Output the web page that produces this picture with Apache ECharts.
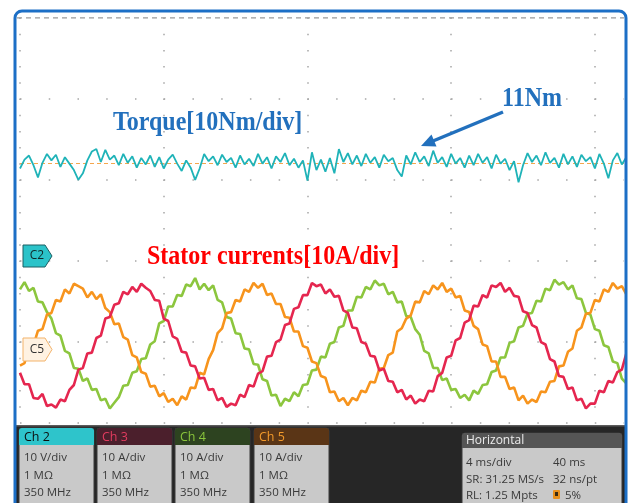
<!DOCTYPE html>
<html>
<head>
<meta charset="utf-8">
<script src="https://cdn.jsdelivr.net/npm/echarts@6/dist/echarts.min.js"></script>
<style>
html,body{margin:0;padding:0;background:#fff;}
#chart{width:631px;height:503px;}
</style>
</head>
<body>
<div id="chart"></div>
<script>
// ---- data ----
const sampleStepMs = 0.125;          // time between samples (ms)
const timeSpanMs = 16.81;            // visible time window (ms)
const majorDivMs = 4;                // 4 ms/div

const torqueNm = [10.8,11.9,12.4,11.2,9.7,11.5,12.6,11.8,12.5,11.0,12.2,11.4,10.6,9.4,10.2,11.8,12.9,13.2,11.6,13.1,
11.9,12.4,11.2,12.6,11.5,12.3,10.9,12.1,11.3,12.4,11.0,12.2,10.8,11.9,12.5,11.4,10.5,11.8,10.9,9.4,
10.8,12.6,11.7,12.3,11.2,12.5,11.6,12.1,10.9,12.4,11.3,12.0,11.1,12.6,11.4,12.2,10.8,12.3,11.6,12.7,
11.2,12.0,10.9,11.8,9.3,12.8,10.6,11.9,10.4,12.1,10.2,13.2,11.6,12.7,11.3,12.4,11.1,12.6,11.5,12.2,
10.9,12.5,11.7,12.1,10.6,9.8,12.4,11.3,12.8,11.6,12.3,11.1,13.0,11.5,12.2,11.0,12.6,11.4,12.1,10.9,
12.4,11.2,12.6,11.5,12.2,10.8,12.5,11.4,12.0,10.6,11.7,9.1,11.2,12.7,11.6,12.4,11.2,12.8,11.5,12.1,
10.9,12.6,11.3,12.3,11.0,12.5,11.7,12.2,10.8,12.6,11.4,9.6,11.8,12.7,11.3,12.2];

const currentCh3A = [-3.5,-4.9,-4.9,-6.6,-6.7,-6.1,-7.6,-7.4,-7.8,-6.8,-7.0,-5.6,-5.0,-3.1,-2.9,-1.1,-1.0,0.8,1.1,3.2,
3.4,4.9,5.1,6.5,6.2,7.1,6.5,7.5,7.0,6.6,5.5,5.4,3.2,2.9,1.0,0.7,-0.9,-1.0,-2.6,-2.7,
-4.2,-4.1,-5.6,-5.5,-6.9,-6.6,-7.7,-7.3,-7.5,-6.2,-6.5,-5.0,-5.2,-3.6,-3.3,-1.5,-1.4,0.3,0.6,2.4,
2.6,4.4,4.6,6.1,6.1,7.6,7.2,7.4,6.3,6.8,5.9,6.0,4.2,3.9,2.1,2.0,0.3,0.1,-1.4,-1.5,
-3.2,-3.0,-4.5,-4.6,-5.9,-5.6,-6.8,-6.3,-7.3,-6.8,-7.0,-5.7,-5.8,-3.9,-3.5,-1.6,-1.4,0.5,0.8,2.7,
3.0,4.8,4.7,6.1,5.8,7.3,7.1,7.6,6.5,7.0,6.0,5.9,4.1,3.9,2.4,2.1,0.3,0.0,-1.8,-2.1,
-3.9,-4.0,-5.5,-5.3,-6.9,-6.7,-7.9,-7.3,-7.3,-5.7,-5.9,-4.5,-4.7,-3.4,-3.1,-1.1];

const currentCh4A = [6.8,7.7,6.6,7.0,5.3,5.2,4.0,3.2,1.4,1.1,-0.8,-1.1,-2.9,-3.0,-4.5,-4.2,-5.6,-5.5,-6.9,-6.7,
-7.9,-7.2,-6.5,-5.1,-5.0,-3.5,-3.3,-1.8,-1.7,0.0,0.4,2.6,2.9,4.7,4.7,6.1,6.0,7.4,7.2,8.2,
6.8,7.5,6.7,7.3,5.5,5.2,3.4,3.2,1.4,1.3,-0.5,-0.6,-2.4,-2.5,-4.3,-4.5,-6.3,-6.2,-7.6,-6.7,
-7.0,-5.9,-6.4,-5.0,-4.9,-3.2,-3.1,-1.5,-1.6,0.1,0.3,2.1,2.3,4.2,4.2,5.9,5.8,7.1,6.8,7.9,
7.3,7.5,6.2,6.5,5.2,5.3,3.5,3.4,1.9,1.2,-0.8,-1.1,-2.9,-2.9,-4.4,-4.2,-5.6,-5.5,-6.6,-6.2,
-6.9,-5.7,-6.1,-5.0,-4.9,-3.4,-3.2,-1.6,-1.6,0.2,0.4,2.1,2.3,3.8,3.9,5.4,5.3,6.9,6.7,8.0,
7.4,7.7,6.8,7.3,5.7,5.6,3.9,3.7,1.9,1.7,-0.1,-0.3,-2.1,-2.3,-4.2,-4.8];

const currentCh5A = [-2.6,-2.3,-0.4,-0.1,1.7,1.9,3.7,3.9,5.5,5.3,6.8,6.3,7.5,7.2,6.9,5.8,6.5,5.6,6.2,4.5,
4.0,2.5,2.6,0.9,0.6,-1.3,-1.6,-3.4,-3.6,-5.2,-5.1,-6.4,-6.0,-7.1,-6.7,-7.5,-6.4,-6.8,-5.3,-5.4,
-3.5,-3.7,-1.8,-0.7,1.4,2.0,3.9,4.0,5.5,5.3,6.8,6.5,7.6,7.0,7.5,6.1,6.3,5.0,5.0,3.4,
3.3,1.6,1.6,-0.2,-0.4,-2.1,-2.3,-3.9,-4.1,-5.9,-5.8,-7.0,-6.6,-7.5,-6.6,-6.9,-5.7,-5.9,-4.6,-4.7,
-3.0,-2.9,-1.3,-1.0,1.6,2.0,3.2,3.6,5.3,5.2,6.6,6.2,7.3,6.8,7.6,6.5,6.9,5.8,6.0,4.2,
4.0,2.3,1.9,0.0,-0.2,-2.1,-2.1,-4.0,-4.0,-5.5,-5.3,-6.9,-6.3,-7.3,-6.8,-7.1,-5.8,-5.9,-4.6,-4.5,
-2.7,-2.6,-0.9,-0.5,1.7,2.1,3.8,3.9,5.5,5.3,6.8,6.5,7.6,6.9,7.2,6.2];

const torqueLevelNm = 11.4;          // dashed level marker behind the torque trace

const channelNames = ['Ch 2','Ch 3','Ch 4','Ch 5'];
const channelScales = ['10 V/div','10 A/div','10 A/div','10 A/div'];
const channelImpedance = ['1 M\u03A9','1 M\u03A9','1 M\u03A9','1 M\u03A9'];
const channelBandwidth = ['350 MHz','350 MHz','350 MHz','350 MHz'];
const horizontalRows = [['4 ms/div','40 ms'],['SR: 31.25 MS/s','32 ns/pt'],['RL: 1.25 Mpts','5%']];

// ---- styling ----
const chHeaderFill = ['#2ec4cb','#4b1f2c','#2d4320','#5a3516'];
const chHeaderText = ['#0d0d0d','#e23c5f','#8ac63c','#f39a2b'];
const blue = '#2270bd';

const toXY = arr => arr.map((v, i) => [i * sampleStepMs, v]);

const graphics = [];
// bottom dark panel
graphics.push({type:'rect', z:90, shape:{x:16, y:425, width:609, height:80}, style:{fill:'#262626'}});
graphics.push({type:'rect', z:91, shape:{x:16, y:425, width:609, height:1.5}, style:{fill:'#5c5c5c'}});
// channel boxes
const boxX = [19, 97, 175, 254];
channelNames.forEach((name, k) => {
  const x = boxX[k];
  graphics.push({type:'rect', z:92, shape:{x:x, y:428, width:75, height:80, r:3}, style:{fill:'#c9c9c9', stroke:'#3a3a3a', lineWidth:1}});
  graphics.push({type:'rect', z:93, shape:{x:x, y:428, width:75, height:17, r:[3,3,0,0]}, style:{fill:chHeaderFill[k]}});
  graphics.push({type:'text', z:94, x:x+5, y:437, style:{text:name, font:'12.5px "Open Sans"', fill:chHeaderText[k], verticalAlign:'middle'}});
  graphics.push({type:'text', z:94, x:x+5, y:458, style:{text:channelScales[k], font:'11.5px "Open Sans"', fill:'#3a3a3a', verticalAlign:'middle'}});
  graphics.push({type:'text', z:94, x:x+5, y:476, style:{text:channelImpedance[k], font:'11.5px "Open Sans"', fill:'#3a3a3a', verticalAlign:'middle'}});
  graphics.push({type:'text', z:94, x:x+5, y:493, style:{text:channelBandwidth[k], font:'11.5px "Open Sans"', fill:'#3a3a3a', verticalAlign:'middle'}});
});
// horizontal box
graphics.push({type:'rect', z:92, shape:{x:462, y:433, width:160, height:75, r:3}, style:{fill:'#c9c9c9', stroke:'#3a3a3a', lineWidth:1}});
graphics.push({type:'rect', z:93, shape:{x:462, y:433, width:160, height:15, r:[3,3,0,0]}, style:{fill:'#555555'}});
graphics.push({type:'text', z:94, x:466, y:441, style:{text:'Horizontal', font:'12px "Open Sans"', fill:'#ececec', verticalAlign:'middle'}});
const rowY = [463, 480, 496];
horizontalRows.forEach((r, k) => {
  graphics.push({type:'text', z:94, x:466, y:rowY[k], style:{text:r[0], font:'11.5px "Open Sans"', fill:'#3a3a3a', verticalAlign:'middle'}});
  graphics.push({type:'text', z:94, x:(k===2?565:553), y:rowY[k], style:{text:r[1], font:'11.5px "Open Sans"', fill:'#3a3a3a', verticalAlign:'middle'}});
});
graphics.push({type:'rect', z:94, shape:{x:553, y:490, width:7, height:9, r:1}, style:{fill:'#e8901c'}});
graphics.push({type:'rect', z:95, shape:{x:555, y:492, width:3, height:4}, style:{fill:'#3a2a10'}});
// top dashed line
graphics.push({type:'line', z:20, shape:{x1:17, y1:17.8, x2:624, y2:17.8}, style:{stroke:'#9a9a9a', lineWidth:1.2, lineDash:[5,4]}});
// channel markers
graphics.push({type:'polygon', z:30, shape:{points:[[23,245],[45,245],[52,256],[45,267],[23,267]]}, style:{fill:'#2bc3c9', stroke:'#1d5f63', lineWidth:1}});
graphics.push({type:'text', z:31, x:37, y:256, style:{text:'C2', font:'12px "Open Sans"', fill:'#102828', align:'center', verticalAlign:'middle'}});
graphics.push({type:'polygon', z:30, shape:{points:[[23,338],[45,338],[52,349.5],[45,361],[23,361]]}, style:{fill:'#fff2e2', stroke:'#f3b36b', lineWidth:1}});
graphics.push({type:'text', z:31, x:37, y:349.5, style:{text:'C5', font:'12px "Open Sans"', fill:'#333333', align:'center', verticalAlign:'middle'}});
// annotations
graphics.push({type:'text', z:40, x:113, y:123, scaleY:1.18, style:{text:'Torque[10Nm/div]', font:'bold 24px "Liberation Serif"', fill:blue, verticalAlign:'middle'}});
graphics.push({type:'text', z:40, x:502, y:99, scaleY:1.18, style:{text:'11Nm', font:'bold 24px "Liberation Serif"', fill:blue, verticalAlign:'middle'}});
graphics.push({type:'text', z:40, x:147, y:257, scaleY:1.18, style:{text:'Stator currents[10A/div]', font:'bold 24px "Liberation Serif"', fill:'#ff0000', verticalAlign:'middle'}});
graphics.push({type:'line', z:40, shape:{x1:503, y1:112, x2:433, y2:141}, style:{stroke:blue, lineWidth:3.5}});
graphics.push({type:'polygon', z:40, shape:{points:[[421,146],[436.5,146.5],[431.5,134.5]]}, style:{fill:blue}});
// frame
graphics.push({type:'rect', z:100, shape:{x:15, y:11, width:611, height:520, r:7}, style:{fill:'none', stroke:'#1c6fc6', lineWidth:3}});

const hidden = {show:false};
const option = {
  animation: false,
  backgroundColor: '#ffffff',
  grid: {left:20, top:17.5, width:604, height:405, containLabel:false},
  xAxis: {
    type:'value', min:0, max:timeSpanMs, interval:majorDivMs,
    axisLine:hidden, axisTick:hidden, axisLabel:hidden,
    splitLine:{show:true, showMaxLine:false, lineStyle:{color:'#a6a6a6', width:1.5, type:[1.5,14.7]}}
  },
  yAxis: [
    {type:'value', min:-20.56, max:29.44, axisLine:hidden, axisTick:hidden, axisLabel:hidden, splitLine:hidden},
    {type:'value', min:-9.63, max:40.37, axisLine:hidden, axisTick:hidden, axisLabel:hidden, splitLine:hidden},
    {type:'value', min:0, max:5, interval:1, axisLine:hidden, axisTick:hidden, axisLabel:hidden,
     splitLine:{show:true, showMaxLine:false, lineStyle:{color:'#a6a6a6', width:1.5, type:[1.5,27.24]}}}
  ],
  series: [
    {name:'Ch 4', type:'line', yAxisIndex:1, data:toXY(currentCh4A), showSymbol:false, symbol:'none', z:3,
     lineStyle:{color:'#8cc63e', width:2.6}},
    {name:'Ch 5', type:'line', yAxisIndex:1, data:toXY(currentCh5A), showSymbol:false, symbol:'none', z:4,
     lineStyle:{color:'#f7941d', width:2.6}},
    {name:'Ch 3', type:'line', yAxisIndex:1, data:toXY(currentCh3A), showSymbol:false, symbol:'none', z:5,
     lineStyle:{color:'#e5264f', width:2.6}},
    {name:'Ch 2', type:'line', yAxisIndex:0, data:toXY(torqueNm), showSymbol:false, symbol:'none', z:6,
     lineStyle:{color:'#1fb3b8', width:1.8},
     markLine:{silent:true, symbol:'none', label:{show:false}, z:2,
       lineStyle:{color:'#f5a64c', type:[4,3], width:1},
       data:[{yAxis:torqueLevelNm}]}}
  ],
  graphic: graphics
};
const chart = echarts.init(document.getElementById('chart'), null, {renderer:'canvas'});
chart.setOption(option);
</script>
</body>
</html>
